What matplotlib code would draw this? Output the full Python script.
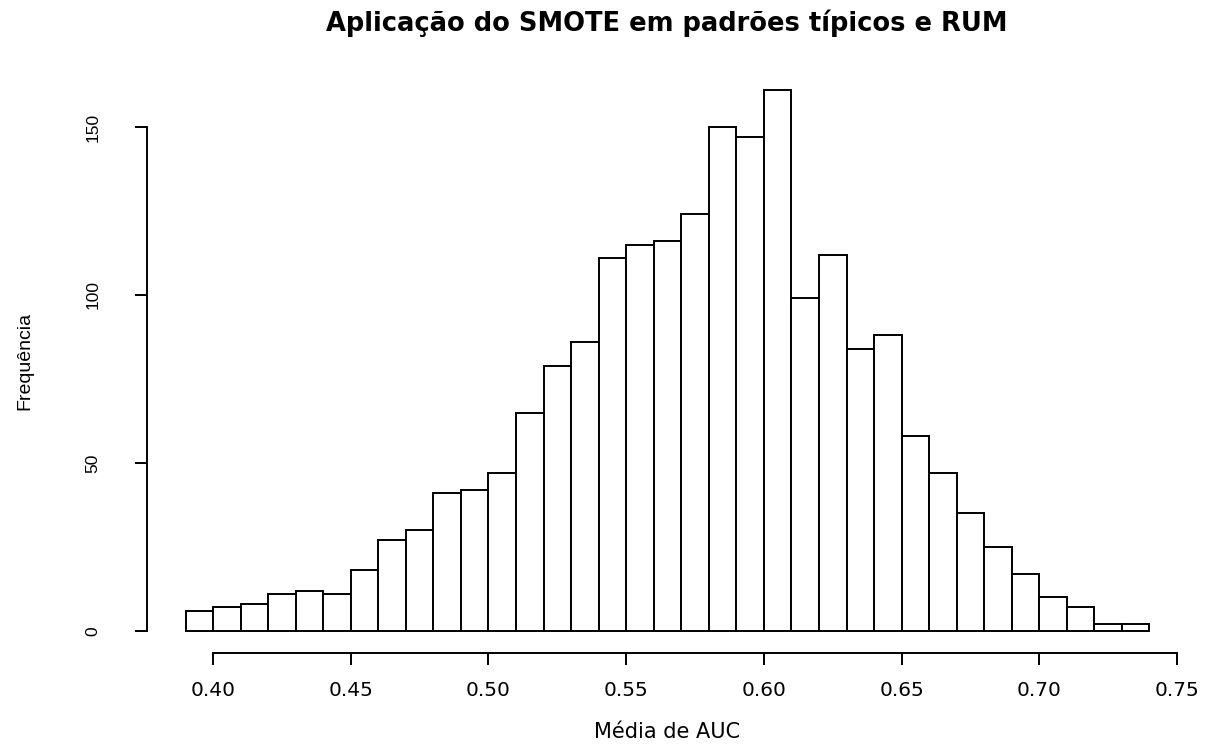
import matplotlib
matplotlib.use("Agg")
import matplotlib.pyplot as plt
import numpy as np

# Histogram data (bin width 0.01 from 0.39 to 0.74)
bin_edges = [round(0.39 + 0.01 * i, 2) for i in range(36)]
counts = [6, 7, 8, 11, 12, 11, 18, 27, 30, 41, 42, 47, 65, 79, 86, 111, 115,
          116, 124, 150, 147, 161, 99, 112, 84, 88, 58, 47, 35, 25, 17, 10, 7, 2, 2]
x_ticks = [0.40, 0.45, 0.50, 0.55, 0.60, 0.65, 0.70, 0.75]
x_tick_labels = ["0.40", "0.45", "0.50", "0.55", "0.60", "0.65", "0.70", "0.75"]
y_ticks = [0, 50, 100, 150]
y_tick_labels = ["0", "50", "100", "150"]
title = "Aplicação do SMOTE em padrões típicos e RUM"
xlabel = "Média de AUC"
ylabel = "Frequência"

W, H = 1224, 744
fig = plt.figure(figsize=(W / 100, H / 100), dpi=100)
left, right, bottom, top = 147, 1188, 652.6, 68.4
ax = fig.add_axes([left / W, (H - bottom) / H, (right - left) / W, (bottom - top) / H])

ax.bar(bin_edges[:-1], counts, width=0.01, align="edge",
       facecolor="white", edgecolor="black", linewidth=1.4)

ax.set_xlim(0.376, 0.754)
ax.set_ylim(-6.44, 167.44)

for s in ["top", "right"]:
    ax.spines[s].set_visible(False)
ax.spines["left"].set_bounds(0, 150)
ax.spines["bottom"].set_bounds(0.40, 0.75)
for s in ["left", "bottom"]:
    ax.spines[s].set_linewidth(1.4)

ax.set_xticks(x_ticks)
ax.set_xticklabels(x_tick_labels, family="DejaVu Sans", fontsize=14.5)
ax.set_yticks(y_ticks)
ax.set_yticklabels(y_tick_labels, family="Liberation Sans", fontsize=12.5,
                   rotation=90, va="center")
ax.tick_params(axis="x", length=8.6, width=1.4, pad=12)
ax.tick_params(axis="y", length=8.6, width=1.4, pad=25)

fig.text(667 / W, 1 - 31 / H, title, ha="center", va="baseline",
         family="DejaVu Sans", fontweight="bold", fontsize=18.5)
fig.text(667 / W, 1 - 738 / H, xlabel, ha="center", va="baseline",
         family="DejaVu Sans", fontsize=15)
fig.text(33 / W, 1 - 361 / H, ylabel, ha="right", va="center", rotation=90,
         family="Liberation Sans", fontsize=14)

fig.savefig("out.png", dpi=100, facecolor="white")
